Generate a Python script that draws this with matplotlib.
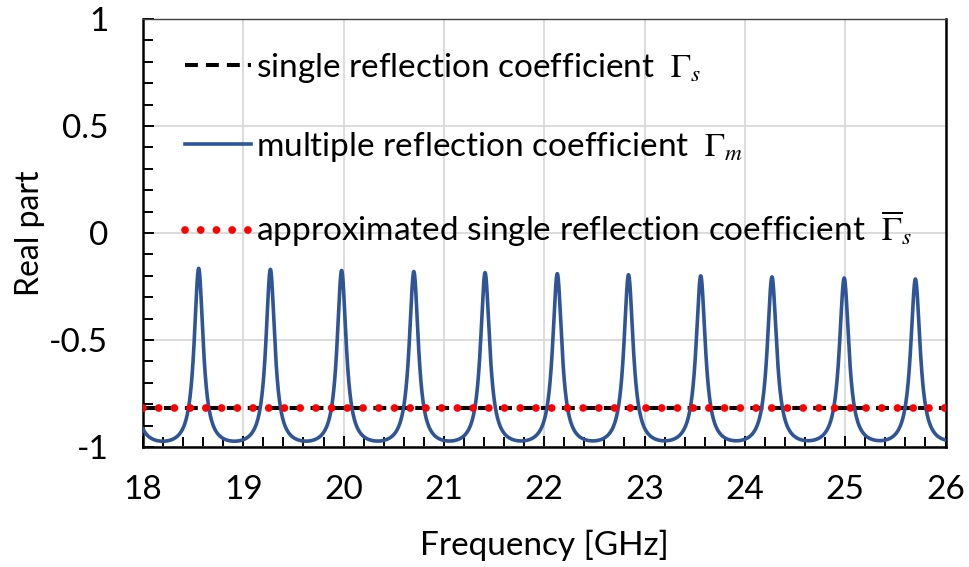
import numpy as np
import matplotlib
matplotlib.use("Agg")
import matplotlib.pyplot as plt

# ---- data -------------------------------------------------------------
freq_range = [18.0, 26.0]                     # GHz
gamma_single = -0.82                          # single reflection coefficient (real part)
gamma_approx = -0.82                          # approximated single reflection coefficient
# resonance peaks of the multiple reflection coefficient
peak_freq = [18.555, 19.27, 19.98, 20.70, 21.41, 22.13,
             22.84, 23.56, 24.27, 24.99, 25.70]
peak_real = [-0.165, -0.170, -0.175, -0.180, -0.185, -0.190,
             -0.195, -0.200, -0.205, -0.210, -0.215]

x_ticks = [18, 19, 20, 21, 22, 23, 24, 25, 26]
y_ticks = [-1, -0.5, 0, 0.5, 1]
y_tick_labels = ["-1", "-0.5", "0", "0.5", "1"]

# ---- multiple reflection (Fabry-Perot) response ------------------------
pf = np.asarray(peak_freq)
period = np.mean(np.diff(pf))
pf_ext = np.concatenate([[pf[0] - period], pf, [pf[-1] + period]])
order = np.arange(-1, len(pf) + 1)
f = np.linspace(freq_range[0], freq_range[1], 6001)
phase = 2 * np.pi * np.interp(f, pf_ext, order)

# round-trip attenuation chosen so each resonance reaches its peak value
r = np.asarray(peak_real) / gamma_single
att = (1 - r) / (1 - r * gamma_single ** 2)
att_ext = np.concatenate([[att[0]], att, [att[-1]]])
a = np.interp(f, pf_ext, att_ext)
z = a * np.exp(-1j * phase)
gamma_multi = np.real(gamma_single * (1 - z) / (1 - gamma_single ** 2 * z))

# ---- figure -------------------------------------------------------------
plt.rcParams['font.family'] = ['Lato', 'DejaVu Sans']
plt.rcParams['mathtext.fontset'] = 'stix'

FS = 24

fig = plt.figure(figsize=(9.69, 5.67), dpi=100)
ax = fig.add_axes([143 / 969, 1 - 447 / 567, (945.5 - 143) / 969, (447 - 19) / 567])

ax.plot(freq_range, [gamma_single, gamma_single], color='black', lw=2.9,
        linestyle=(0, (3.2, 2.0)), zorder=3,
        label=r"single reflection coefficient  $\Gamma_s$")
ax.plot(f, gamma_multi, color='#2F5597', lw=2.6, zorder=4,
        label=r"multiple reflection coefficient  $\Gamma_m$")
ax.plot(freq_range, [gamma_approx, gamma_approx], color='#FF0000', lw=5.6,
        linestyle=(0, (0.001, 2.02)), dash_capstyle='round', zorder=5,
        label=r"approximated single reflection coefficient  $\overline{\Gamma}_s$")

ax.set_xlim(*freq_range)
ax.set_ylim(-1, 1)
ax.set_xticks(x_ticks)
ax.set_xticklabels([str(t) for t in x_ticks])
ax.set_yticks(y_ticks)
ax.set_yticklabels(y_tick_labels)
ax.set_xticks(np.arange(18, 26.001, 0.2), minor=True)
ax.set_yticks(np.arange(-1, 1.001, 0.1), minor=True)

ax.grid(which='major', color='#d9d9d9', lw=1.3, zorder=0)
ax.set_axisbelow(True)

ax.tick_params(axis='both', which='both', direction='in', width=1.4,
               colors='black', labelsize=FS)
ax.tick_params(axis='both', which='major', length=8)
ax.tick_params(axis='both', which='minor', length=7)
ax.tick_params(axis='y', which='major', pad=25)
ax.tick_params(axis='x', which='major', pad=20)

for side in ('left', 'bottom', 'right'):
    ax.spines[side].set_linewidth(1.8)
    ax.spines[side].set_color('black')
ax.spines['top'].set_linewidth(1.0)
ax.spines['top'].set_color('#404040')

ax.set_xlabel("Frequency [GHz]", fontsize=FS, labelpad=18)
ax.set_ylabel("Real part", fontsize=23, labelpad=3)

leg = ax.legend(loc='upper left', bbox_to_anchor=(0.052, 0.925), frameon=False,
                fontsize=FS, handlelength=2.0, handletextpad=0.15,
                labelspacing=1.35, borderpad=0, borderaxespad=0)

fig.savefig("out.png", dpi=100)
